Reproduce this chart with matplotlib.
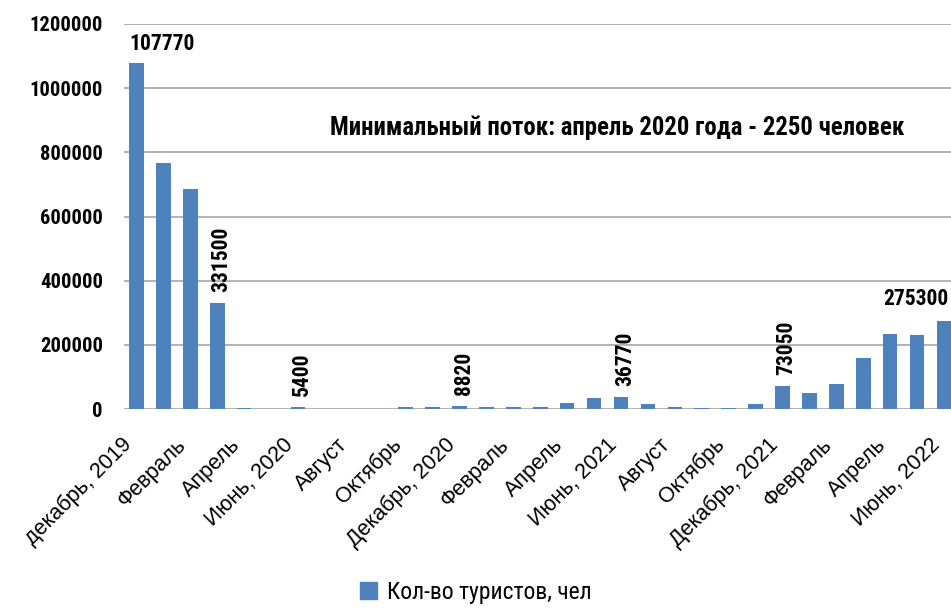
import matplotlib
matplotlib.use("Agg")
import matplotlib.pyplot as plt
from matplotlib.patches import Patch

# Данные: число туристов по месяцам, декабрь 2019 - июнь 2022
months = ["декабрь, 2019", "", "Февраль", "", "Апрель", "", "Июнь, 2020", "",
          "Август", "", "Октябрь", "", "Декабрь, 2020", "", "Февраль", "",
          "Апрель", "", "Июнь, 2021", "", "Август", "", "Октябрь", "",
          "Декабрь, 2021", "", "Февраль", "", "Апрель", "", "Июнь, 2022"]
tourists = [1077700, 766000, 685000, 331500, 2250, 1500, 5400, 1200,
            1000, 1300, 7500, 8000, 8820, 7500, 6500, 7000,
            20000, 35000, 36770, 15000, 5500, 5000, 3500, 17000,
            73050, 51000, 78000, 160000, 234000, 230000, 275300]

# Подписи значений (как на исходной картинке)
label_idx = [0, 3, 6, 12, 18, 24, 30]
label_text = ["107770", "331500", "5400", "8820", "36770", "73050", "275300"]
label_rot = [0, 90, 90, 90, 90, 90, 0]

note = "Минимальный поток: апрель 2020 года - 2250 человек"
legend_label = "Кол-во туристов, чел"
yticks = [0, 200000, 400000, 600000, 800000, 1000000, 1200000]

narrow = ["Roboto Condensed", "PT Sans Narrow", "DejaVu Sans"]
regular = ["Liberation Sans", "DejaVu Sans"]

blue = "#4F81BD"
grid_col = "#A6A6A6"

fig = plt.figure(figsize=(9.51, 6.08), dpi=100)
ax = fig.add_axes([0.130, 0.327, 0.870, 0.6337])

x = list(range(len(tourists)))
ax.bar(x, tourists, width=0.54, color=blue, zorder=3)

ax.set_xlim(-0.48, 30.26)
ax.set_ylim(0, 1200000)
ax.set_yticks(yticks)
ax.set_yticklabels([str(v) for v in yticks], family=narrow,
                   fontweight="bold", fontsize=14.8)
ax.yaxis.grid(True, color=grid_col, linewidth=1.2, zorder=0)
ax.set_axisbelow(True)
for s in ax.spines.values():
    s.set_visible(False)
ax.tick_params(axis="y", length=0, pad=15)

ax.set_xticks(x[::2])
ax.set_xticklabels(months[::2], rotation=45, ha="right",
                   family=regular, fontsize=15.5)
ax.tick_params(axis="x", length=0, pad=18)

for i, t, r in zip(label_idx, label_text, label_rot):
    if r == 90:
        ax.annotate(t, (i, tourists[i]), xytext=(3, 8), textcoords="offset points",
                    rotation=90, ha="center", va="bottom", family=narrow,
                    fontweight="bold", fontsize=15.5)
    elif i == 0:
        ax.annotate(t, (i - 0.27, tourists[i]), xytext=(0, 6), textcoords="offset points",
                    ha="left", va="bottom", family=narrow,
                    fontweight="bold", fontsize=15.5)
    else:
        ax.annotate(t, (i + 0.15, tourists[i]), xytext=(0, 8), textcoords="offset points",
                    ha="right", va="bottom", family=narrow,
                    fontweight="bold", fontsize=15.5)

ax.text(7.17, 876000, note, ha="left", va="center", family=narrow,
        fontweight="bold", fontsize=17.8)

handle = Patch(facecolor=blue, edgecolor=blue)
fig.legend([handle], [legend_label], loc="lower center", bbox_to_anchor=(0.5, -0.028),
           frameon=False, prop={"family": narrow, "size": 17},
           handlelength=0.75, handleheight=0.75, handletextpad=0.4)

fig.savefig("out.png", dpi=100)
